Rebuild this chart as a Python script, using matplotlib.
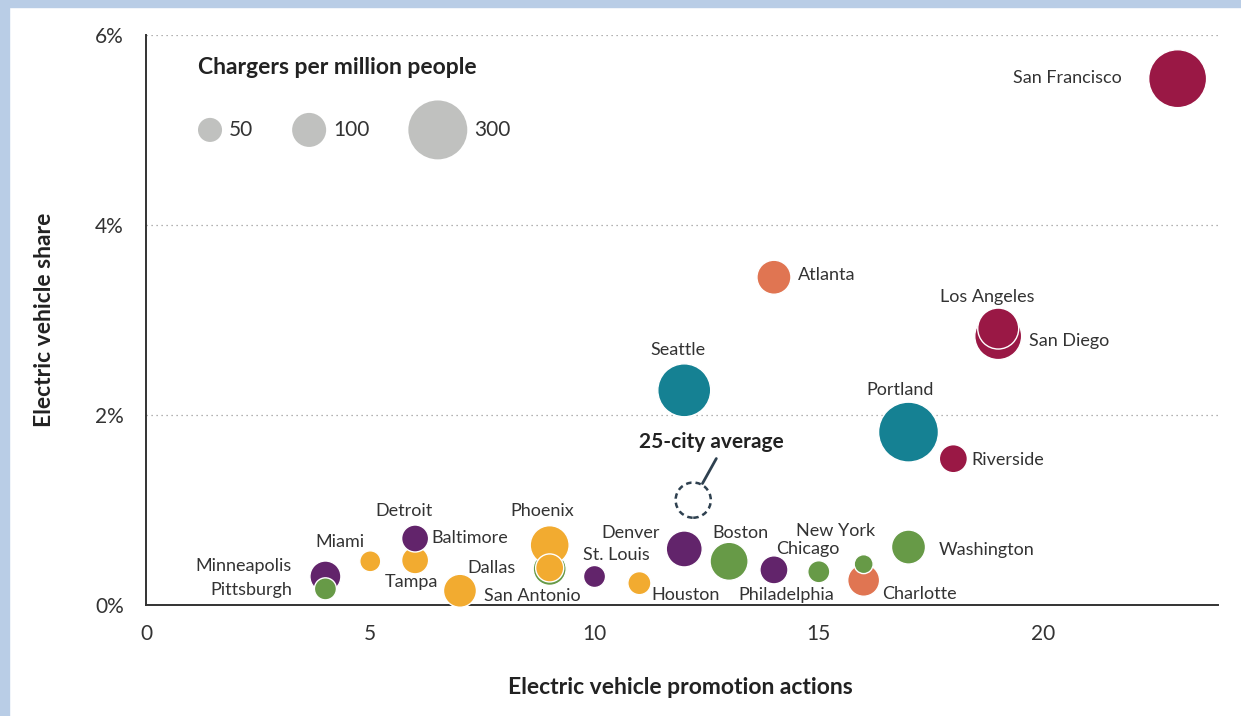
import numpy as np
import matplotlib
matplotlib.use('Agg')
import matplotlib.pyplot as plt
from matplotlib.patches import Rectangle, Circle
from matplotlib.ticker import FuncFormatter
from matplotlib.offsetbox import AnchoredOffsetbox, DrawingArea, TextArea, HPacker, VPacker

plt.rcParams['font.family'] = ['Lato', 'DejaVu Sans']

# data (drawing order matters for overlaps)
cities = ['San Francisco', 'Atlanta', 'San Diego', 'Los Angeles', 'Seattle', 'Portland',
          'Riverside', 'Minneapolis', 'Pittsburgh', 'Miami', 'Tampa', 'Detroit', 'Dallas',
          'Baltimore', 'Phoenix', 'San Antonio', 'St. Louis', 'Houston', 'Denver', 'Boston',
          'Philadelphia', 'Chicago', 'Charlotte', 'New York', 'Washington']
actions = [23, 14, 19, 19, 12, 17, 18, 4, 4, 5, 6, 6, 7, 9, 9, 9, 10, 11, 12, 13, 14, 15, 16, 16, 17]
ev_share = [5.54, 3.45, 2.83, 2.91, 2.26, 1.82, 1.54, 0.30, 0.17, 0.46, 0.47, 0.70, 0.15,
            0.38, 0.63, 0.39, 0.30, 0.23, 0.59, 0.46, 0.37, 0.35, 0.26, 0.43, 0.61]
chargers = [290, 100, 190, 145, 242, 310, 68, 83, 42, 38, 63, 63, 94, 94, 131, 68, 42, 46,
            112, 125, 68, 42, 88, 31, 100]
group = ['ca', 'se', 'ca', 'ca', 'nw', 'nw', 'ca', 'mw', 'ne', 'sb', 'sb', 'mw', 'sb',
         'ne', 'sb', 'sb', 'mw', 'sb', 'mw', 'ne', 'mw', 'ne', 'se', 'ne', 'ne']
legend_sizes = [50, 100, 300]

colors = {'ca': '#9a1845', 'nw': '#158193', 'se': '#e07552', 'sb': '#f2ab30',
          'mw': '#62246b', 'ne': '#679a47'}

# label placement: offset from bubble centre in pixels (right, up) and alignment
label_pos = {
    'San Francisco': (-56, 1, 'right'), 'Atlanta': (24, 2, 'left'),
    'Los Angeles': (-11, 32, 'center'), 'San Diego': (31, -5, 'left'),
    'Seattle': (-6, 40, 'center'), 'Portland': (-8, 42, 'center'),
    'Riverside': (18, -1, 'left'), 'Detroit': (-11, 28, 'center'),
    'Baltimore': (-118, 31, 'left'), 'Tampa': (-4, -22, 'center'),
    'Miami': (-30, 19, 'center'), 'Minneapolis': (-34, 10, 'right'),
    'Pittsburgh': (-33, -1, 'right'), 'Dallas': (7, 23, 'left'),
    'San Antonio': (-17, -28, 'center'), 'Phoenix': (-7, 34, 'center'),
    'St. Louis': (22, 21, 'center'), 'Denver': (-54, 16, 'center'),
    'Houston': (12, -12, 'left'), 'Boston': (11, 28, 'center'),
    'Philadelphia': (12, -25, 'center'), 'Chicago': (-11, 23, 'center'),
    'New York': (-28, 33, 'center'), 'Charlotte': (18, -14, 'left'),
    'Washington': (30, -3, 'left'),
}

S = 6.0  # marker area (pt^2) per charger
px = 0.72  # points per pixel at dpi 100
text_col = '#333333'

fig = plt.figure(figsize=(12.41, 7.16), dpi=100)
ax = fig.add_axes([146 / 1241, 1 - 605 / 716, 1072 / 1241, 570 / 716])

# light blue frame on top and left
fig.patches.append(Rectangle((0, 0), 9 / 1241, 1, transform=fig.transFigure,
                             color='#b9cde6', zorder=0))
fig.patches.append(Rectangle((0, 1 - 7 / 716), 1, 7 / 716, transform=fig.transFigure,
                             color='#b9cde6', zorder=0))

ax.scatter(actions, ev_share, s=np.array(chargers) * S,
           c=[colors[g] for g in group], edgecolors='white', linewidths=1,
           zorder=3, clip_on=False)

for name, x, y in zip(cities, actions, ev_share):
    dx, dy, ha = label_pos[name]
    ax.annotate(name, (x, y), xytext=(dx * px, dy * px), textcoords='offset points',
                ha=ha, va='center', fontsize=13, color=text_col, zorder=4)

# 25-city average
avg_x = np.mean(actions)
avg_y = np.mean(ev_share)
avg_c = np.mean(chargers)
ax.scatter([avg_x], [avg_y], s=avg_c * S, facecolors='none', edgecolors='#2f4150',
           linewidths=1.8, linestyles=(0, (2.2, 1.6)), zorder=3)
r_pt = np.sqrt(avg_c * S) / 2
ax.annotate('25-city average', (avg_x, avg_y), xytext=(18 * px, 58 * px),
            textcoords='offset points', ha='center', va='center', fontsize=15,
            fontweight='bold', color='#222222',
            arrowprops=dict(arrowstyle='-', color='#2f4150', lw=2,
                            relpos=(0.56, 0), shrinkA=3, shrinkB=r_pt + 1))

# size legend built from offset boxes so each circle keeps its own width
entries = []
for v in legend_sizes:
    d = np.sqrt(v * S)  # same diameter (pt) as the scatter markers
    da = DrawingArea(d, d, 0, 0)
    da.add_artist(Circle((d / 2, d / 2), d / 2, color='#c0c1bf', lw=0))
    lab = TextArea(str(v), textprops=dict(fontsize=15, color=text_col))
    entries.append(HPacker(children=[da, lab], sep=5, align='center', pad=0))
row = HPacker(children=entries, sep=28, align='center', pad=0)
title = TextArea('Chargers per million people',
                 textprops=dict(fontsize=16.5, fontweight='bold', color='#222222'))
box = VPacker(children=[title, row], sep=16, align='left', pad=0)
ax.add_artist(AnchoredOffsetbox(loc='upper left', child=box, pad=0, borderpad=0,
                                frameon=False, bbox_to_anchor=(0.0485, 0.961),
                                bbox_transform=ax.transAxes))

ax.set_xlim(0, 23.9)
ax.set_ylim(0, 6)
ax.set_xticks([0, 5, 10, 15, 20])
ax.set_yticks([0, 2, 4, 6])
ax.yaxis.set_major_formatter(FuncFormatter(lambda v, p: f'{v:.0f}%'))
ax.tick_params(axis='both', length=0, labelsize=15, labelcolor=text_col)
ax.tick_params(axis='x', pad=14)
ax.tick_params(axis='y', pad=16)
ax.yaxis.grid(True, linestyle=(0, (1, 3)), color='#999999', linewidth=0.9)
ax.set_axisbelow(True)
for sp in ['top', 'right']:
    ax.spines[sp].set_visible(False)
for sp in ['left', 'bottom']:
    ax.spines[sp].set_color('#333333')
    ax.spines[sp].set_linewidth(1.4)

ax.set_xlabel('Electric vehicle promotion actions', fontsize=16.5, fontweight='bold',
              color='#222222')
ax.set_ylabel('Electric vehicle share', fontsize=16.5, fontweight='bold',
              color='#222222')
ax.xaxis.set_label_coords((680 - 146) / 1072, -(687 - 605) / 570)
ax.yaxis.set_label_coords(-(146 - 45) / 1072, 0.5)
ax.xaxis.label.set_va('center')
ax.yaxis.label.set_va('center')

fig.savefig('out.png', dpi=100)
